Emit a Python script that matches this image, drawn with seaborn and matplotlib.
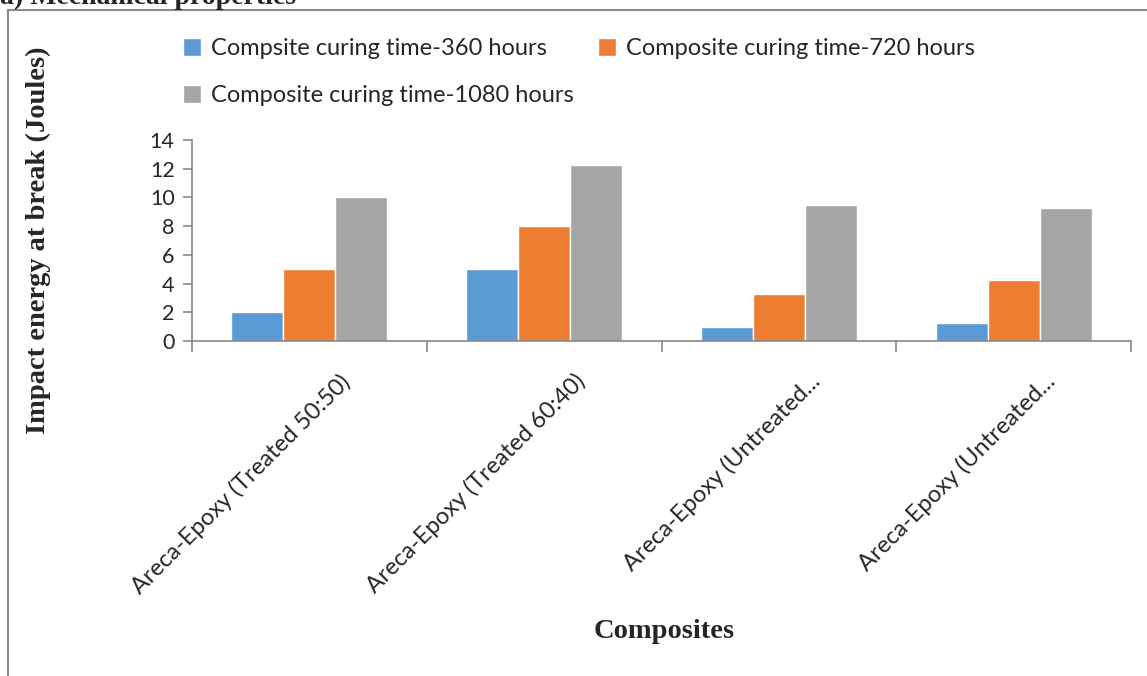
import pandas as pd
import matplotlib.pyplot as plt
import matplotlib.transforms as mtransforms
from matplotlib.patches import Rectangle
import seaborn as sns

# data
composites = [
    'Areca-Epoxy (Treated 50:50)',
    'Areca-Epoxy (Treated 60:40)',
    'Areca-Epoxy (Untreated...',
    'Areca-Epoxy (Untreated...',
]
series_names = [
    'Compsite curing time-360 hours',
    'Composite curing time-720 hours',
    'Composite curing time-1080 hours',
]
energy_360 = [2.0, 5.0, 1.0, 1.25]
energy_720 = [5.0, 8.0, 3.25, 4.25]
energy_1080 = [10.0, 12.25, 9.5, 9.25]
colors = ['#5B9BD5', '#ED7D31', '#A5A5A5']

sns.set_style('white')
plt.rcParams['font.family'] = ['Lato', 'DejaVu Sans']

# long table for seaborn; positions keep the two "Untreated..." groups apart
rows = []
for i, name in enumerate(composites):
    for s, vals in zip(series_names, [energy_360, energy_720, energy_1080]):
        rows.append({'pos': i, 'series': s, 'energy': vals[i]})
df = pd.DataFrame(rows)

W, H = 1147, 676
fig = plt.figure(figsize=(W / 100, H / 100), dpi=100)
ax = fig.add_axes([192 / W, 1 - 341 / H, (1131 - 192) / W, (341 - 140) / H])

sns.barplot(data=df, x='pos', y='energy', hue='series', hue_order=series_names,
            palette=colors, width=0.665, saturation=1, ax=ax, errorbar=None,
            order=[0, 1, 2, 3])

ax.set_xlim(-0.5, 3.5)
ax.set_ylim(0, 14)
ax.set_yticks(range(0, 15, 2))
ax.tick_params(axis='y', labelsize=15.5, length=6.5, width=1.2, color='#868686',
               direction='out', left=True, pad=6)

# category labels at centres, tick marks at boundaries
ax.set_xticks(range(4))
ax.set_xticklabels(composites, rotation=45, ha='right', va='center',
                   rotation_mode='anchor', fontsize=17)
ax.tick_params(axis='x', which='major', length=0, pad=0)
ax.set_xticks([-0.5, 0.5, 1.5, 2.5, 3.5], minor=True)
ax.tick_params(axis='x', which='minor', length=8, width=1.2, color='#868686',
               direction='out', bottom=True)
shift = mtransforms.ScaledTranslation(0.38, -0.37, fig.dpi_scale_trans)
for lab in ax.get_xticklabels():
    lab.set_transform(lab.get_transform() + shift)

for side in ['top', 'right']:
    ax.spines[side].set_visible(False)
for side in ['left', 'bottom']:
    ax.spines[side].set_color('#868686')
    ax.spines[side].set_linewidth(1.2)

ax.set_xlabel('')
ax.set_ylabel('')
fig.text(38 / W, 1 - 240 / H, 'Impact energy at break (Joules)', rotation=90,
         ha='center', va='center', fontsize=20.5, fontweight='bold',
         family='Liberation Serif')
fig.text(664 / W, 1 - 632 / H, 'Composites', ha='center', va='center',
         fontsize=20.5, fontweight='bold', family='Liberation Serif')

# legend: two columns, 1080 hours on the second row
handles, labels = ax.get_legend_handles_labels()
ax.get_legend().remove()
order = [0, 2, 1]
fig.legend([handles[k] for k in order], [labels[k] for k in order],
           ncol=2, loc='upper left', bbox_to_anchor=(162 / W, 1 - 17 / H),
           frameon=False, fontsize=17, handlelength=0.75, handleheight=0.75,
           handletextpad=0.42, columnspacing=1.05, labelspacing=1.1)

# outer frame and the cut-off heading above it
fig.patches.append(Rectangle((8 / W, -0.1), 1.2, 1.1 - 10 / H, transform=fig.transFigure,
                             fill=False, edgecolor='#8a8a8a', linewidth=1.5))
fig.text(0.0, 1 - 4 / H, 'a) Mechanical properties', ha='left', va='baseline',
         fontsize=20, fontweight='bold', family='Liberation Serif')

fig.savefig('out.png', dpi=100)
